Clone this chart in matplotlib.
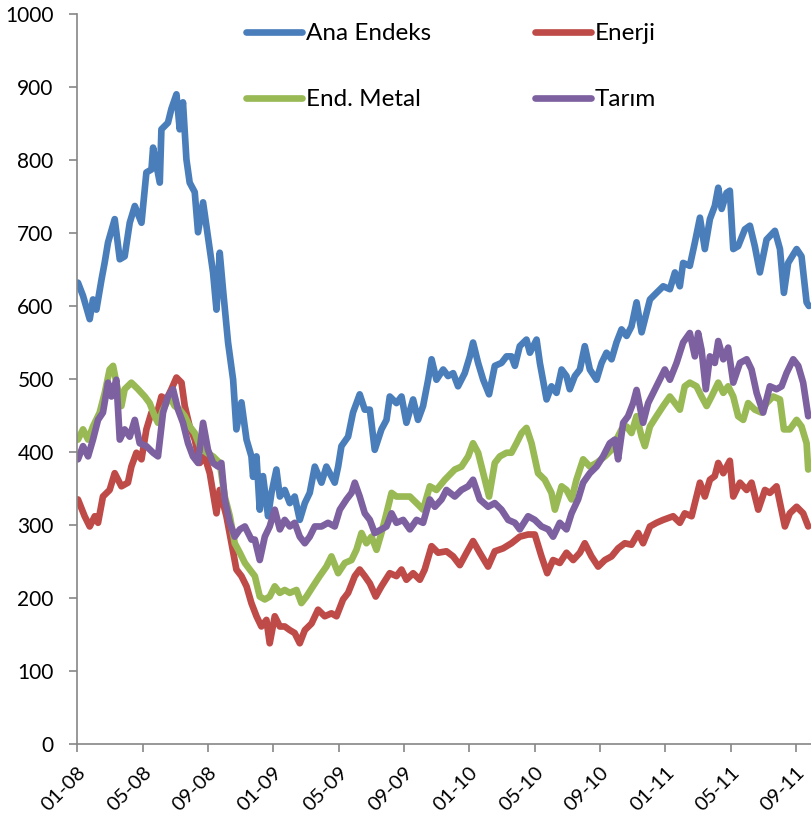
import matplotlib
matplotlib.use("Agg")
import matplotlib.pyplot as plt

plt.rcParams['font.family'] = ['Lato', 'DejaVu Sans']

# x values: months since 01-2008
tick_pos = [0, 4, 8, 12, 16, 20, 24, 28, 32, 36, 40, 44]
tick_labels = ["01-08", "05-08", "09-08", "01-09", "05-09", "09-09",
               "01-10", "05-10", "09-10", "01-11", "05-11", "09-11"]

ana_x = [0.04, 0.35, 0.76, 0.96, 1.17, 1.48, 1.68, 1.88, 2.29, 2.60, 2.90, 3.21, 3.52, 3.93,
         4.23, 4.54, 4.64, 5.05, 5.15, 5.55, 5.76, 6.07, 6.27, 6.47, 6.68, 6.88, 7.19, 7.39,
         7.70, 7.91, 8.31, 8.52, 8.72, 8.92, 9.23, 9.54, 9.74, 10.05, 10.36, 10.66, 10.76,
         10.97, 11.17, 11.37, 11.68, 11.89, 12.19, 12.40, 12.70, 13.01, 13.31, 13.62, 13.93,
         14.23, 14.54, 14.95, 15.25, 15.76, 15.97, 16.17, 16.58, 16.88, 17.29, 17.60, 17.91,
         18.21, 18.62, 18.93, 19.13, 19.54, 19.85, 20.15, 20.56, 20.86, 21.17, 21.48, 21.69,
         21.99, 22.40, 22.70, 23.01, 23.31, 23.72, 24.03, 24.23, 24.54, 24.85, 25.21, 25.56,
         25.97, 26.28, 26.58, 26.79, 27.09, 27.50, 27.71, 28.12, 28.32, 28.73, 29.03, 29.34,
         29.65, 29.95, 30.15, 30.46, 30.77, 31.07, 31.38, 31.79, 32.10, 32.40, 32.71, 33.01,
         33.32, 33.63, 33.93, 34.24, 34.55, 35.06, 35.46, 35.87, 36.28, 36.59, 36.89, 37.09,
         37.50, 37.81, 38.12, 38.42, 38.73, 39.03, 39.24, 39.45, 39.75, 39.95, 40.16, 40.46,
         40.87, 41.18, 41.48, 41.79, 42.20, 42.71, 43.02, 43.26, 43.52, 44.04, 44.34, 44.65,
         44.79]
ana_y = [632, 614, 582, 609, 595, 636, 660, 687, 719, 664, 668, 714, 737, 714,
         783, 787, 817, 769, 842, 851, 870, 890, 842, 879, 801, 769, 756, 701,
         742, 709, 646, 595, 673, 623, 550, 499, 431, 468, 417, 394, 366,
         394, 321, 367, 312, 344, 376, 339, 348, 330, 339, 307, 330,
         344, 380, 358, 380, 358, 380, 408, 421, 454, 479, 458, 458,
         403, 431, 444, 476, 467, 476, 440, 472, 444, 463, 499, 527,
         499, 513, 504, 508, 490, 508, 531, 550, 522, 499, 479, 518,
         522, 531, 531, 518, 545, 554, 536, 554, 522, 472, 490, 481,
         513, 504, 486, 504, 513, 545, 513, 499, 522, 536, 527, 550,
         568, 559, 572, 605, 564, 609, 618, 627, 623, 646, 627, 659,
         655, 687, 721, 678, 719, 737, 762, 733, 755, 758, 678, 682,
         705, 710, 682, 646, 691, 703, 678, 618, 659, 678, 668, 605,
         600]

enerji_x = [0.04, 0.45, 0.76, 1.07, 1.27, 1.57, 1.98, 2.29, 2.70, 3.10, 3.31, 3.62, 3.93,
            4.23, 4.54, 4.84, 5.15, 5.46, 5.76, 6.07, 6.38, 6.58, 6.88, 7.19, 7.50, 7.80,
            8.11, 8.52, 8.72, 9.13, 9.44, 9.74, 10.05, 10.36, 10.66, 10.97, 11.27, 11.58,
            11.78, 12.09, 12.40, 12.70, 13.01, 13.31, 13.62, 13.93, 14.34, 14.74, 15.15,
            15.56, 15.87, 16.27, 16.58, 16.99, 17.29, 17.60, 17.91, 18.27, 18.62, 19.13,
            19.54, 19.85, 20.15, 20.56, 20.97, 21.27, 21.69, 22.09, 22.60, 23.01, 23.42,
            23.83, 24.23, 24.64, 25.15, 25.56, 26.07, 26.58, 27.09, 27.60, 28.01, 28.42,
            28.77, 29.13, 29.54, 29.95, 30.36, 30.77, 31.07, 31.48, 31.89, 32.30, 32.71,
            33.11, 33.52, 33.93, 34.34, 34.64, 35.06, 35.46, 35.87, 36.48, 36.89, 37.19,
            37.61, 37.91, 38.12, 38.42, 38.73, 39.03, 39.24, 39.55, 39.95, 40.16, 40.57,
            40.98, 41.28, 41.69, 42.10, 42.40, 42.81, 43.32, 43.62, 44.04, 44.44, 44.75]
enerji_y = [335, 312, 298, 312, 303, 339, 348, 371, 353, 358, 380, 399, 390,
            431, 454, 449, 476, 472, 486, 502, 495, 463, 435, 417, 385, 394,
            371, 316, 348, 312, 275, 239, 230, 216, 193, 175, 161, 170,
            138, 175, 161, 161, 156, 152, 138, 156, 165, 184, 175,
            179, 175, 198, 207, 230, 239, 230, 220, 202, 216, 234,
            230, 239, 225, 234, 225, 239, 271, 262, 264, 257, 245,
            262, 278, 262, 243, 264, 268, 275, 284, 287, 287, 257,
            234, 252, 248, 262, 252, 262, 275, 257, 243, 252, 257,
            268, 275, 273, 289, 275, 298, 303, 307, 312, 303, 316,
            312, 339, 358, 339, 362, 367, 385, 371, 388, 339, 358,
            348, 358, 321, 348, 344, 353, 298, 316, 325, 316, 298]

metal_x = [0.04, 0.35, 0.66, 0.96, 1.37, 1.68, 1.98, 2.19, 2.39, 2.70, 2.90, 3.31, 3.72,
           4.13, 4.43, 4.74, 4.94, 5.25, 5.66, 5.96, 6.27, 6.58, 6.88, 7.19, 7.50, 7.91,
           8.31, 8.72, 9.03, 9.34, 9.64, 9.95, 10.26, 10.56, 10.87, 11.17, 11.48, 11.78,
           12.09, 12.40, 12.70, 13.01, 13.42, 13.72, 14.03, 14.43, 14.84, 15.25, 15.56,
           15.97, 16.38, 16.79, 17.09, 17.40, 17.70, 18.01, 18.32, 18.62, 18.93, 19.24,
           19.54, 19.95, 20.36, 20.77, 21.17, 21.58, 21.99, 22.50, 23.11, 23.52, 23.93,
           24.23, 24.54, 24.85, 25.21, 25.56, 25.87, 26.28, 26.58, 26.89, 27.20, 27.50,
           27.81, 28.21, 28.62, 29.03, 29.24, 29.65, 29.95, 30.26, 30.56, 30.97, 31.38,
           31.79, 32.30, 32.71, 33.01, 33.32, 33.63, 33.93, 34.24, 34.55, 34.75, 35.06,
           35.46, 35.87, 36.28, 36.59, 36.89, 37.19, 37.50, 37.91, 38.22, 38.53, 38.83,
           39.24, 39.55, 39.85, 40.16, 40.46, 40.77, 41.07, 41.48, 41.89, 42.20, 42.60,
           43.02, 43.26, 43.62, 44.04, 44.34, 44.65, 44.75]
metal_y = [417, 431, 417, 435, 454, 481, 513, 518, 495, 463, 486, 495, 486,
           476, 467, 449, 440, 458, 476, 463, 458, 449, 435, 426, 408, 399,
           394, 385, 339, 312, 275, 262, 248, 239, 230, 202, 198, 202,
           216, 207, 211, 207, 211, 193, 202, 216, 230, 243, 257,
           234, 248, 252, 266, 289, 275, 284, 266, 289, 316, 344,
           339, 339, 339, 330, 321, 353, 348, 362, 376, 380, 394,
           412, 399, 371, 339, 385, 394, 399, 399, 412, 426, 433,
           412, 371, 362, 344, 321, 353, 348, 335, 362, 390, 380,
           385, 394, 403, 417, 431, 435, 426, 449, 421, 408, 435,
           449, 463, 476, 467, 458, 490, 495, 490, 476, 463, 476,
           495, 481, 490, 476, 449, 444, 467, 458, 454, 467, 476,
           472, 431, 431, 444, 435, 412, 376]

tarim_x = [0.04, 0.35, 0.66, 0.96, 1.27, 1.57, 1.88, 2.09, 2.39, 2.60, 2.90, 3.21, 3.52,
           3.82, 4.23, 4.64, 4.94, 5.25, 5.55, 5.86, 6.17, 6.47, 6.78, 7.08, 7.39, 7.70,
           8.00, 8.31, 8.62, 8.82, 9.03, 9.34, 9.64, 9.95, 10.26, 10.66, 10.87, 11.17,
           11.48, 11.78, 12.09, 12.40, 12.70, 13.01, 13.31, 13.62, 13.93, 14.23, 14.54,
           14.95, 15.35, 15.76, 16.07, 16.48, 16.79, 16.99, 17.29, 17.60, 17.91, 18.21,
           18.62, 18.93, 19.24, 19.54, 19.95, 20.36, 20.77, 21.17, 21.58, 21.89, 22.30,
           22.60, 23.11, 23.52, 23.93, 24.23, 24.64, 25.15, 25.56, 25.97, 26.38, 26.79,
           27.09, 27.60, 28.01, 28.42, 28.83, 29.13, 29.54, 29.95, 30.26, 30.66, 30.97,
           31.38, 31.79, 32.19, 32.60, 32.91, 33.11, 33.42, 33.72, 34.03, 34.24, 34.64,
           34.95, 35.26, 35.66, 35.97, 36.28, 36.69, 37.09, 37.50, 37.81, 38.01, 38.22,
           38.48, 38.73, 39.03, 39.24, 39.55, 39.85, 40.16, 40.57, 40.98, 41.28, 41.59,
           41.99, 42.40, 42.81, 43.12, 43.42, 43.83, 44.14, 44.44, 44.75]
tarim_y = [390, 408, 394, 417, 444, 454, 495, 476, 499, 417, 431, 421, 444,
           412, 408, 399, 394, 454, 476, 486, 458, 440, 412, 394, 385, 440,
           403, 385, 380, 385, 335, 303, 284, 294, 298, 280, 280, 252,
           284, 298, 321, 294, 307, 298, 303, 284, 275, 284, 298,
           298, 303, 298, 321, 335, 344, 358, 339, 316, 307, 289,
           294, 298, 316, 303, 307, 294, 307, 303, 335, 325, 335,
           348, 339, 348, 353, 362, 335, 325, 330, 321, 307, 303,
           294, 312, 307, 298, 294, 284, 303, 294, 316, 335, 358,
           371, 380, 394, 412, 417, 390, 440, 449, 467, 485, 440,
           467, 481, 499, 513, 499, 522, 550, 563, 531, 563, 540,
           486, 531, 522, 552, 527, 543, 495, 522, 527, 513, 481,
           454, 490, 486, 490, 508, 527, 518, 495, 449]

series = [
    ("Ana Endeks", ana_x, ana_y, "#4A7EBB"),
    ("Enerji", enerji_x, enerji_y, "#BE4B48"),
    ("End. Metal", metal_x, metal_y, "#98B954"),
    ("Tarım", tarim_x, tarim_y, "#7D60A0"),
]

fig = plt.figure(figsize=(8.11, 8.19), dpi=100)
ax = fig.add_axes([77.3 / 811, 1 - 744 / 819, 1 - 77.3 / 811, (744 - 14) / 819])

handles = {}
for name, xs, ys, col in series:
    ln, = ax.plot(xs, ys, color=col, lw=4.8, solid_joinstyle='round',
                  solid_capstyle='round', label=name)
    handles[name] = ln

ax.set_xlim(0, 44.92)
ax.set_ylim(0, 1000)
ax.set_yticks(range(0, 1001, 100))
ax.set_xticks(tick_pos)
ax.set_xticklabels(tick_labels, rotation=45, ha='right', va='top',
                   rotation_mode='anchor', fontsize=14.5)
ax.tick_params(axis='y', labelsize=15, length=6, width=1.2, color='#868686', pad=11)
ax.tick_params(axis='x', length=6, width=1.2, color='#868686', pad=8)
for s in ['top', 'right']:
    ax.spines[s].set_visible(False)
for s in ['left', 'bottom']:
    ax.spines[s].set_color('#868686')
    ax.spines[s].set_linewidth(1.2)

order = ["Ana Endeks", "End. Metal", "Enerji", "Tarım"]
leg = fig.legend([handles[n] for n in order], order, ncol=2, frameon=False,
                 loc='upper left', bbox_to_anchor=(246 / 811, 1 - 23 / 819),
                 fontsize=17.5, handlelength=2.3, handletextpad=0.15,
                 columnspacing=4.3, labelspacing=1.87, borderpad=0, borderaxespad=0)
for lh in leg.get_lines():
    lh.set_linewidth(4.8)

fig.savefig("out.png", dpi=100)
